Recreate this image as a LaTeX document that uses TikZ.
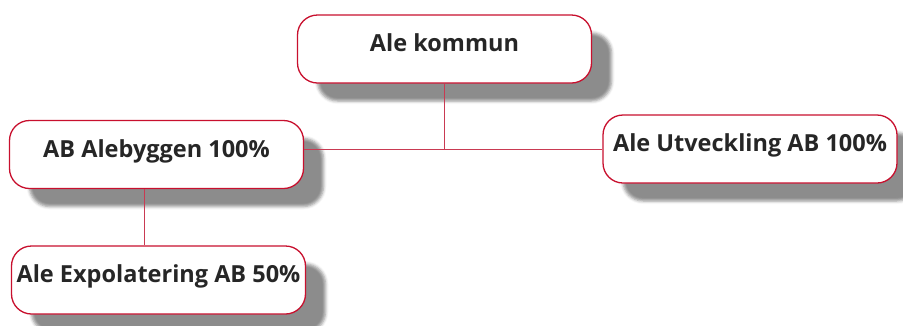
\documentclass[tikz,border=0pt]{standalone}
\usepackage{fontspec}
\setmainfont{Open Sans}
\usepackage{tikz}
\usetikzlibrary{
    calc,
    positioning,
    shadows.blur
}
\definecolor{alered}{HTML}{C8102E}
\definecolor{alelink}{HTML}{C93A52}
\tikzset{
    orgbox/.style={draw=alered, line width=1.3pt, fill=white, rounded corners=20pt,
        minimum width=294pt, minimum height=68pt, inner sep=0pt,
        text depth=9pt, text height=14pt,
        font=\fontsize{23.5}{28}\selectfont\bfseries, text=black!85,
        blur shadow={shadow xshift=20pt, shadow yshift=-18pt, shadow opacity=45, shadow blur radius=3pt}},
    orglink/.style={draw=alelink, line width=0.9pt}
}

\begin{document}
\begin{tikzpicture}[x=1pt, y=-1pt]
                        \useasboundingbox (0, 0) rectangle (903, 325);
                        \node[orgbox] (kommun) at (444.5, 49) {Ale kommun};
                        \node[orgbox] (alebyggen) at (156.5, 154.5) {AB Alebyggen 100\%};
                        \node[orgbox] (utveckling) at (750, 149) {Ale Utveckling AB 100\%};
                        \node[orgbox] (expolatering) at (158.5, 280) {Ale Expolatering AB 50\%};

                        \coordinate (joint) at (kommun.south |- utveckling.west);
                        \coordinate (tap) at ([xshift=-12pt]alebyggen.south);

                        \draw[orglink]
                        (kommun.south) -- (joint)
                        (alebyggen.east |- joint) -- (utveckling.west)
                        (tap) -- (tap |- expolatering.north);
                    \end{tikzpicture}
\end{document}
